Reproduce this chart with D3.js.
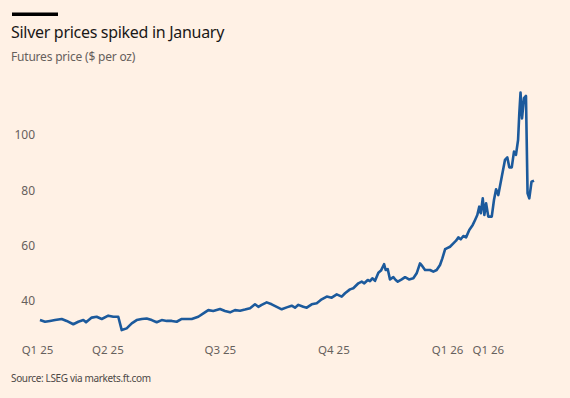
<!DOCTYPE html>
<html>
<head>
<meta charset="utf-8">
<script src="https://cdn.jsdelivr.net/npm/d3@7"></script>
<style>
  body { margin: 0; background: #fff1e5; }
  svg { display: block; font-family: "Noto Sans", sans-serif; }
</style>
</head>
<body>
<script>
//chart data - silver futures price ($ per oz)
var startDate = new Date(2025, 1, 3); //Feb 3 2025

//days since start date
var days = [2, 6.1, 10.1, 14.2, 19.6, 23.6, 29, 33, 37.1, 39.3, 43.9, 47.9, 52, 57.3, 61.4, 65.4,
    68.2, 72.2, 76.3, 80.3, 84.4, 88.4, 92.5, 96.5, 100.6, 104.6, 108.7, 112.7, 116.8, 120.8, 124.9,
    130.2, 134.3, 138.3, 142.3, 147.8, 151.8, 155.9, 159.9, 164, 168, 172.1, 176.1, 178.8, 181.5,
    185.6, 189.6, 193.7, 197.7, 201.8, 205.8, 208.5, 211.2, 215.2, 218, 222, 226.1, 230.1, 234.2,
    238.2, 242.3, 246.3, 249, 253, 255.7, 259.8, 262.5, 264.6, 267.4, 269.2, 271.1, 273.3, 276,
    278.1, 280.6, 281.9, 283.6, 285.4, 288.1, 290, 291.7, 294.9, 297.6, 300.8, 304.3, 307, 309.7,
    311.6, 313.8, 317.8, 320.5, 323.2, 325.9, 327.8, 330, 331.3, 334, 336.7, 338.9, 340.7, 342.7,
    344.8, 347, 349.6, 352.4, 354.3, 356.1, 357.7, 358.9, 360.5, 361.8, 363.2, 365, 367.8, 369.6,
    371.3, 373.1, 375.9, 378.5, 380.4, 382, 384, 385.8, 387.4, 389.1, 390.1, 391.1, 392.3, 393.9,
    395.5, 396.8, 398.2, 400, 402];

var prices = [33.1, 32.5, 32.8, 33.1, 33.5, 32.8, 31.6, 32.5, 33.1, 32.3, 34.0, 34.3, 33.5, 34.7, 34.3, 34.3,
    29.5, 30.1, 31.9, 33.1, 33.5, 33.7, 33.1, 32.3, 33.1, 32.8, 32.8, 32.5, 33.5, 33.5, 33.5,
    34.3, 35.5, 36.7, 36.4, 37.1, 36.4, 35.9, 36.7, 36.5, 36.9, 37.4, 38.8, 37.9, 38.6,
    39.5, 38.8, 37.9, 37.0, 37.7, 38.3, 37.6, 38.6, 37.9, 37.6, 38.8, 39.2, 40.6, 41.6,
    41.2, 42.4, 41.6, 42.8, 44.2, 44.6, 46.4, 47.0, 46.4, 47.6, 47.2, 48.2, 47.3, 50.2,
    51.0, 53.3, 51.2, 51.5, 47.8, 48.6, 47.6, 47.0, 47.8, 48.6, 47.8, 48.2, 50.0, 53.6,
    52.6, 51.2, 51.2, 50.6, 51.2, 53.0, 55.4, 58.7, 59.0, 59.6, 60.8, 61.8, 63.0, 62.3,
    63.5, 63.0, 65.7, 67.5, 69.3, 71.1, 74.1, 71.7, 77.1, 71.1, 75.3, 70.5, 70.5, 76.5,
    80.4, 78.3, 84.9, 91.0, 91.9, 88.3, 88.3, 94.0, 92.8, 98.2, 107.8, 115.3, 106.0, 113.3,
    114.1, 78.9, 77.1, 83.1, 83.5];

//axis ticks
var yTicks = [40, 60, 80, 100];
var xTickDays = [0, 57, 148, 240, 332, 365];
var xTickLabels = ["Q1 25", "Q2 25", "Q3 25", "Q4 25", "Q1 26", "Q1 26"];

var w = 570, h = 398;

function toDate(d){
    return new Date(startDate.getTime() + d * 864e5);
}

var data = days.map(function(d, i){
    return { date: toDate(d), price: prices[i] };
});

var svg = d3.select("body")
    .append("svg")
    .attr("width", w)
    .attr("height", h)
    .attr("class", "chart");

//scales
var x = d3.scaleTime()
    .domain([toDate(0), toDate(365)])
    .range([37.5, 488.3]);

var y = d3.scaleLinear()
    .domain([40, 100])
    .range([301, 135]);

//top black bar
svg.append("rect")
    .attr("x", 12)
    .attr("y", 12.5)
    .attr("width", 46)
    .attr("height", 3.5)
    .style("fill", "#000");

//title + subtitle
svg.append("text")
    .attr("class", "title")
    .attr("x", 11)
    .attr("y", 38)
    .style("font-size", "16px")
    .style("letter-spacing", "-0.3px")
    .style("fill", "#1a1817")
    .text("Silver prices spiked in January");

svg.append("text")
    .attr("class", "subtitle")
    .attr("x", 11)
    .attr("y", 61)
    .style("font-size", "12px")
    .style("letter-spacing", "-0.2px")
    .style("fill", "#66605c")
    .text("Futures price ($ per oz)");

//y axis labels
svg.selectAll(".ylab")
    .data(yTicks)
    .enter()
    .append("text")
    .attr("class", "ylab")
    .attr("x", 35)
    .attr("y", function(d){ return y(d); })
    .attr("dy", "0.35em")
    .attr("text-anchor", "end")
    .style("font-size", "12px")
    .style("fill", "#66605c")
    .text(function(d){ return d; });

//x axis labels
svg.selectAll(".xlab")
    .data(xTickDays)
    .enter()
    .append("text")
    .attr("class", "xlab")
    .attr("x", function(d){ return x(toDate(d)); })
    .attr("y", 354)
    .attr("text-anchor", "middle")
    .style("font-size", "11.5px")
    .style("fill", "#66605c")
    .text(function(d, i){ return xTickLabels[i]; });

//price line
var line = d3.line()
    .x(function(d){ return x(d.date); })
    .y(function(d){ return y(d.price); });

svg.append("path")
    .datum(data)
    .attr("class", "priceLine")
    .attr("d", line)
    .style("fill", "none")
    .style("stroke", "#1c5a9c")
    .style("stroke-width", 2.6)
    .style("stroke-linejoin", "round");

//source
svg.append("text")
    .attr("class", "source")
    .attr("x", 11)
    .attr("y", 382)
    .style("font-size", "10px")
    .style("letter-spacing", "-0.35px")
    .style("fill", "#4d4845")
    .text("Source: LSEG via markets.ft.com");
</script>
</body>
</html>
